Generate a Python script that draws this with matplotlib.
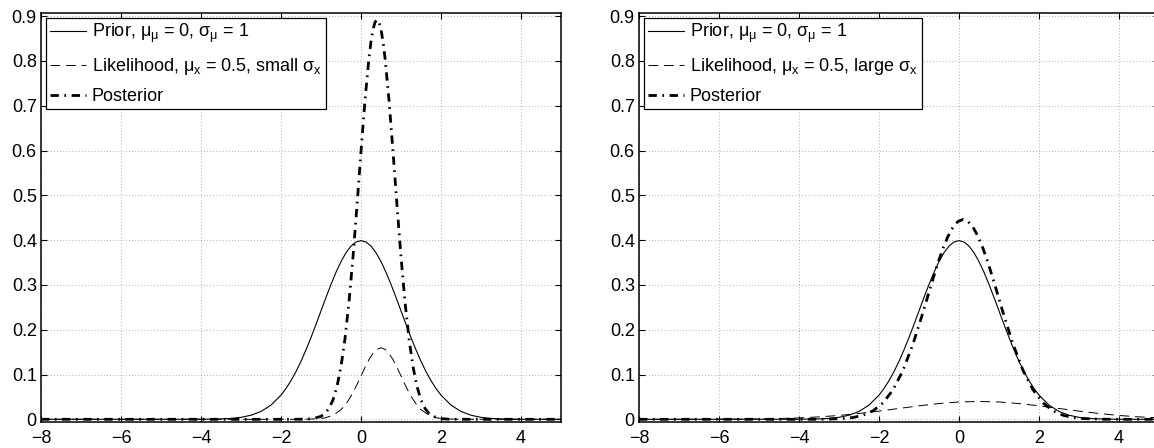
import matplotlib
matplotlib.use("Agg")
import matplotlib.pyplot as plt

plt.rcParams["font.family"] = ["Liberation Sans", "DejaVu Sans"]
plt.rcParams["mathtext.fontset"] = "custom"
plt.rcParams["mathtext.rm"] = "Liberation Sans"
plt.rcParams["mathtext.it"] = "Liberation Sans"
plt.rcParams["mathtext.bf"] = "Liberation Sans:bold"

# prior, same in both panels
prior_x = [-8, -4, -3.5, -3.25, -3, -2.75, -2.5, -2.25, -2, -1.875, -1.75, -1.625,
           -1.5, -1.375, -1.25, -1.125, -1, -0.875, -0.75, -0.625, -0.5, -0.375,
           -0.25, -0.125, 0, 0.125, 0.25, 0.375, 0.5, 0.625, 0.75, 0.875, 1, 1.125,
           1.25, 1.375, 1.5, 1.625, 1.75, 1.875, 2, 2.25, 2.5, 2.75, 3, 3.25, 3.5,
           4, 5]
prior_y = [0, 0.0001, 0.0009, 0.0020, 0.0044, 0.0091, 0.0175, 0.0317, 0.0540, 0.0689,
           0.0863, 0.1065, 0.1295, 0.1551, 0.1826, 0.2119, 0.2420, 0.2721, 0.3011,
           0.3282, 0.3521, 0.3719, 0.3867, 0.3958, 0.3989, 0.3958, 0.3867, 0.3719,
           0.3521, 0.3282, 0.3011, 0.2721, 0.2420, 0.2119, 0.1826, 0.1551, 0.1295,
           0.1065, 0.0863, 0.0689, 0.0540, 0.0317, 0.0175, 0.0091, 0.0044, 0.0020,
           0.0009, 0.0001, 0]

# left panel: small sigma_x
lik_small_x = [-8, -1.5, -1.1, -0.9, -0.7, -0.5, -0.4, -0.3, -0.2, -0.1, 0, 0.1, 0.2,
               0.3, 0.4, 0.5, 0.6, 0.7, 0.8, 0.9, 1.0, 1.1, 1.2, 1.3, 1.4, 1.5, 1.7,
               1.9, 2.1, 2.5, 5]
lik_small_y = [0, 0, 0.0010, 0.0032, 0.0090, 0.0216, 0.0316, 0.0444, 0.0599, 0.0777,
               0.0968, 0.1159, 0.1333, 0.1473, 0.1564, 0.1596, 0.1564, 0.1473, 0.1333,
               0.1159, 0.0968, 0.0777, 0.0599, 0.0444, 0.0316, 0.0216, 0.0090, 0.0032,
               0.0010, 0, 0]
post_small_x = [-8, -1.8, -1.4, -1.2, -1.0, -0.9, -0.8, -0.7, -0.6, -0.5, -0.4, -0.3,
                -0.2, -0.1, 0, 0.1, 0.2, 0.25, 0.3, 0.35, 0.4, 0.45, 0.5, 0.55, 0.6,
                0.7, 0.8, 0.9, 1.0, 1.1, 1.2, 1.3, 1.4, 1.5, 1.6, 1.7, 1.8, 2.0, 2.2,
                2.6, 5]
post_small_y = [0, 0, 0.0003, 0.0015, 0.0066, 0.0130, 0.0244, 0.0433, 0.0732, 0.1178,
                0.1801, 0.2621, 0.3627, 0.4775, 0.5980, 0.7124, 0.8072, 0.8433, 0.8701,
                0.8865, 0.8921, 0.8865, 0.8701, 0.8433, 0.8072, 0.7124, 0.5980, 0.4775,
                0.3627, 0.2621, 0.1801, 0.1178, 0.0732, 0.0433, 0.0244, 0.0130, 0.0066,
                0.0015, 0.0003, 0, 0]

# right panel: large sigma_x
lik_large_x = [-8, -7.5, -7, -6.5, -6, -5.5, -5, -4.5, -4, -3.5, -3, -2.5, -2, -1.5,
               -1, -0.5, 0, 0.5, 1, 1.5, 2, 2.5, 3, 3.5, 4, 4.5, 5]
lik_large_y = [0, 0, 0, 0.0001, 0.0002, 0.0004, 0.0009, 0.0018, 0.0032, 0.0054,
               0.0086, 0.0130, 0.0183, 0.0242, 0.0301, 0.0352, 0.0387, 0.0399, 0.0387,
               0.0352, 0.0301, 0.0242, 0.0183, 0.0130, 0.0086, 0.0054, 0.0032]
post_large_x = [-8, -3.9, -3.4, -2.9, -2.65, -2.4, -2.15, -1.9, -1.65, -1.4, -1.15,
                -0.9, -0.775, -0.65, -0.525, -0.4, -0.275, -0.15, -0.025, 0.1, 0.225,
                0.35, 0.475, 0.6, 0.725, 0.85, 0.975, 1.1, 1.35, 1.6, 1.85, 2.1, 2.35,
                2.6, 2.85, 3.1, 3.6, 4.1, 5]
post_large_y = [0, 0, 0.0002, 0.0016, 0.0040, 0.0090, 0.0189, 0.0366, 0.0658, 0.1093,
                0.1680, 0.2387, 0.2764, 0.3138, 0.3494, 0.3815, 0.4085, 0.4289, 0.4417,
                0.4460, 0.4417, 0.4289, 0.4085, 0.3815, 0.3494, 0.3138, 0.2764, 0.2387,
                0.1680, 0.1093, 0.0658, 0.0366, 0.0189, 0.0090, 0.0040, 0.0016, 0.0002,
                0, 0]

x_ticks = [-8, -6, -4, -2, 0, 2, 4]
y_ticks = [0, 0.1, 0.2, 0.3, 0.4, 0.5, 0.6, 0.7, 0.8, 0.9]
y_ticklabels = ["0", "0.1", "0.2", "0.3", "0.4", "0.5", "0.6", "0.7", "0.8", "0.9"]

labels_left = [r"Prior, $\mu_{\mu}$ = 0, $\sigma_{\mu}$ = 1",
               r"Likelihood, $\mu_{x}$ = 0.5, small $\sigma_{x}$",
               "Posterior"]
labels_right = [r"Prior, $\mu_{\mu}$ = 0, $\sigma_{\mu}$ = 1",
                r"Likelihood, $\mu_{x}$ = 0.5, large $\sigma_{x}$",
                "Posterior"]

FS = 13


def draw_panel(ax, lik_x, lik_y, post_x, post_y, labels):
    ax.plot(prior_x, prior_y, color="black", lw=0.8, label=labels[0])
    ax.plot(lik_x, lik_y, color="black", lw=0.7, linestyle=(0, (10, 6)), label=labels[1])
    ax.plot(post_x, post_y, color="black", lw=2.0, linestyle=(0, (3, 2, 0.6, 2)),
            label=labels[2])
    ax.set_xlim(-8, 5)
    ax.set_ylim(-0.006, 0.907)
    ax.set_xticks(x_ticks)
    ax.set_yticks(y_ticks)
    ax.set_yticklabels(y_ticklabels)
    ax.grid(True, color="black", lw=0.5, linestyle=(0, (1, 3.5)), alpha=0.6)
    ax.tick_params(direction="in", length=4, width=0.8, top=True, right=True,
                   labelsize=FS, pad=3)
    ax.tick_params(axis="x", pad=6)
    for sp in ax.spines.values():
        sp.set_linewidth(1.1)
    leg = ax.legend(loc="upper left", fontsize=FS, handlelength=2.0,
                    handletextpad=0.3, labelspacing=0.6, borderaxespad=0.25,
                    borderpad=0.25, fancybox=False, framealpha=1, edgecolor="black")
    leg.get_frame().set_linewidth(0.9)


fig = plt.figure(figsize=(11.54, 4.48), dpi=100)
ax1 = fig.add_axes([41 / 1154, 26 / 448, 520 / 1154, 409 / 448])
ax2 = fig.add_axes([639 / 1154, 26 / 448, 520 / 1154, 409 / 448])

draw_panel(ax1, lik_small_x, lik_small_y, post_small_x, post_small_y, labels_left)
draw_panel(ax2, lik_large_x, lik_large_y, post_large_x, post_large_y, labels_right)

fig.savefig("out.png", dpi=100)
